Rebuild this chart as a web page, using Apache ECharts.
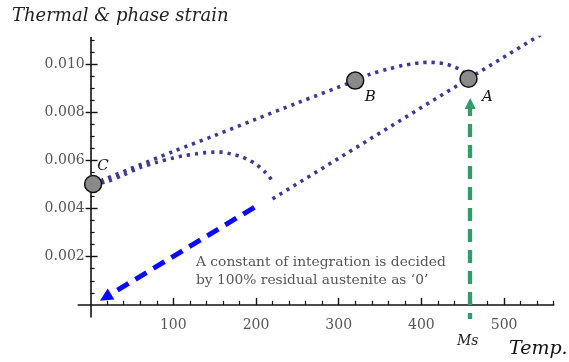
<!DOCTYPE html>
<html>
<head>
<meta charset="utf-8">
<script src="https://cdn.jsdelivr.net/npm/echarts@6/dist/echarts.min.js"></script>
<style>
html,body{margin:0;padding:0;background:#fff;}
#chart{width:569px;height:362px;}
</style>
</head>
<body>
<div id="chart"></div>
<script>
// ---- data ----
const xMajorTicks = [100, 200, 300, 400, 500];
const xMinorTicks = [20, 40, 60, 80, 120, 140, 160, 180, 220, 240, 260, 280, 320, 340, 360, 380, 420, 440, 460, 480, 520, 540, 560];
const yMajorTicks = [0.002, 0.004, 0.006, 0.008, 0.010];
const yMinorTicks = [0.0005, 0.001, 0.0015, 0.0025, 0.003, 0.0035, 0.0045, 0.005, 0.0055, 0.0065, 0.007, 0.0075, 0.0085, 0.009, 0.0095, 0.0105, 0.011];

// austenite line (lower straight branch)
const lowerX = [220, 369, 457, 560];
const lowerY = [0.00440, 0.00754, 0.00939, 0.01155];

// upper branch C -> B -> bump -> A
const upperX = [3, 100, 150, 200, 249, 320, 338, 359, 379, 389, 399, 410, 419, 429, 439, 449, 457];
const upperY = [0.00502, 0.00637, 0.00703, 0.00771, 0.00837, 0.00931, 0.00958, 0.00978, 0.00995, 0.01000, 0.01005, 0.01007, 0.01005, 0.01000, 0.00989, 0.00972, 0.00939];

// hump branch from C
const humpX = [3, 20, 40, 60, 80, 100, 111, 128, 139, 150, 159, 170, 180, 189, 200, 211, 220];
const humpY = [0.00502, 0.00512, 0.00540, 0.00570, 0.00592, 0.00610, 0.00618, 0.00627, 0.00632, 0.00634, 0.00634, 0.00626, 0.00618, 0.00605, 0.00584, 0.00551, 0.00515];

// marked states
const pointNames = ['A', 'B', 'C'];
const pointX = [457, 320, 3];
const pointY = [0.00939, 0.00931, 0.00502];

// arrows
const blueArrowFrom = [198, 0.00405];
const blueArrowTo = [18, 0.00031];
const msTemp = 459;
const greenArrowFrom = [msTemp, -0.00088];
const greenArrowTo = [msTemp, 0.00836];

const titleText = 'Thermal & phase strain';
const xName = 'Temp.';
const msName = 'Ms';
const noteLines = ['A constant of integration is decided', 'by 100% residual austenite as ‘0’'];

// ---- chart ----
const zip = (xs, ys) => xs.map((x, i) => [x, ys[i]]);
const FONT = 'DejaVu Serif';
const AX = '#111';
const DOT = '#3a3a96';
const dotStyle = {color: DOT, width: 3.6, type: [3.2, 5], cap: 'butt'};

const chart = echarts.init(document.getElementById('chart'), null, {renderer: 'canvas'});

const baseX = {type: 'value', min: -15, max: 560, position: 'bottom', splitLine: {show: false}};
const baseY = {type: 'value', min: -0.0005, max: 0.0111, position: 'left', splitLine: {show: false}};

const option = {
  animation: false,
  backgroundColor: '#fff',
  grid: {left: 78.2, right: 15.3, top: 37.5, bottom: 45.1, containLabel: false},
  xAxis: [
    Object.assign({}, baseX, {
      axisLine: {show: true, onZero: true, onZeroAxisIndex: 0, lineStyle: {color: AX, width: 1.6}},
      axisTick: {show: true, customValues: xMajorTicks, inside: true, length: 7, lineStyle: {color: AX, width: 1.4}},
      axisLabel: {show: true, customValues: xMajorTicks, margin: 1, color: '#555', fontFamily: FONT, fontSize: 14}
    }),
    Object.assign({}, baseX, {
      axisLine: {show: false, onZero: true, onZeroAxisIndex: 0},
      axisTick: {show: true, customValues: xMinorTicks, inside: true, length: 4, lineStyle: {color: AX, width: 1.2}},
      axisLabel: {show: false}
    })
  ],
  yAxis: [
    Object.assign({}, baseY, {
      axisLine: {show: true, onZero: true, onZeroAxisIndex: 0, lineStyle: {color: AX, width: 1.6}},
      axisTick: {show: true, customValues: yMajorTicks, inside: true, length: 7, lineStyle: {color: AX, width: 1.4}},
      axisLabel: {show: true, customValues: yMajorTicks, margin: -6.5, color: '#555', fontFamily: FONT, fontSize: 14,
        formatter: v => v.toFixed(3)}
    }),
    Object.assign({}, baseY, {
      axisLine: {show: false, onZero: true, onZeroAxisIndex: 0},
      axisTick: {show: true, customValues: yMajorTicks, inside: false, length: 5, lineStyle: {color: AX, width: 1.4}},
      axisLabel: {show: false}
    }),
    Object.assign({}, baseY, {
      axisLine: {show: false, onZero: true, onZeroAxisIndex: 0},
      axisTick: {show: true, customValues: yMinorTicks, inside: true, length: 4, lineStyle: {color: AX, width: 1.2}},
      axisLabel: {show: false}
    })
  ],
  series: [
    {type: 'line', data: zip(lowerX, lowerY), showSymbol: false, smooth: false, lineStyle: dotStyle, z: 2},
    {type: 'line', data: zip(upperX, upperY), showSymbol: false, smooth: 0.3, lineStyle: dotStyle, z: 2},
    {type: 'line', data: zip(humpX, humpY), showSymbol: false, smooth: 0.3, lineStyle: dotStyle, z: 2},
    {
      type: 'lines', coordinateSystem: 'cartesian2d', z: 3,
      symbol: ['none', 'triangle'], symbolSize: [13, 13],
      lineStyle: {color: '#0a0aff', width: 5, type: [13, 8], opacity: 1, curveness: 0},
      data: [{coords: [blueArrowFrom, blueArrowTo]}]
    },
    {
      type: 'lines', coordinateSystem: 'cartesian2d', z: 3,
      symbol: ['none', 'triangle'], symbolSize: [11, 11],
      lineStyle: {color: '#2f9d68', width: 4.3, type: [13, 8], opacity: 1, curveness: 0},
      data: [{coords: [greenArrowFrom, greenArrowTo]}]
    },
    {
      type: 'scatter', z: 5, symbol: 'circle', symbolSize: 17,
      itemStyle: {color: '#8a8a8a', borderColor: '#111', borderWidth: 1.5, opacity: 1},
      label: {
        show: true, formatter: p => p.name, position: 'inside',
        fontFamily: FONT, fontStyle: 'italic', fontSize: 15, color: '#111'
      },
      data: pointNames.map((n, i) => {
        const offs = {A: [19, 18], B: [15, 16], C: [10, -18]}[n];
        return {name: n, value: [pointX[i], pointY[i]], label: {offset: offs}};
      })
    }
  ],
  graphic: [
    {type: 'text', left: 12, top: 7, style: {text: titleText, font: 'italic 18px "DejaVu Serif"', fill: '#222'}},
    {type: 'text', left: 509, top: 340, style: {text: xName, font: 'italic 19px "DejaVu Serif"', fill: '#111'}},
    {type: 'text', left: 457, top: 334, style: {text: msName, font: 'italic 14px "DejaVu Serif"', fill: '#222'}},
    {type: 'text', left: 196, top: 253, style: {text: noteLines.join('\n'), font: '13.8px "DejaVu Serif"', lineHeight: 18, fill: '#555'}}
  ]
};
chart.setOption(option);
</script>
</body>
</html>
